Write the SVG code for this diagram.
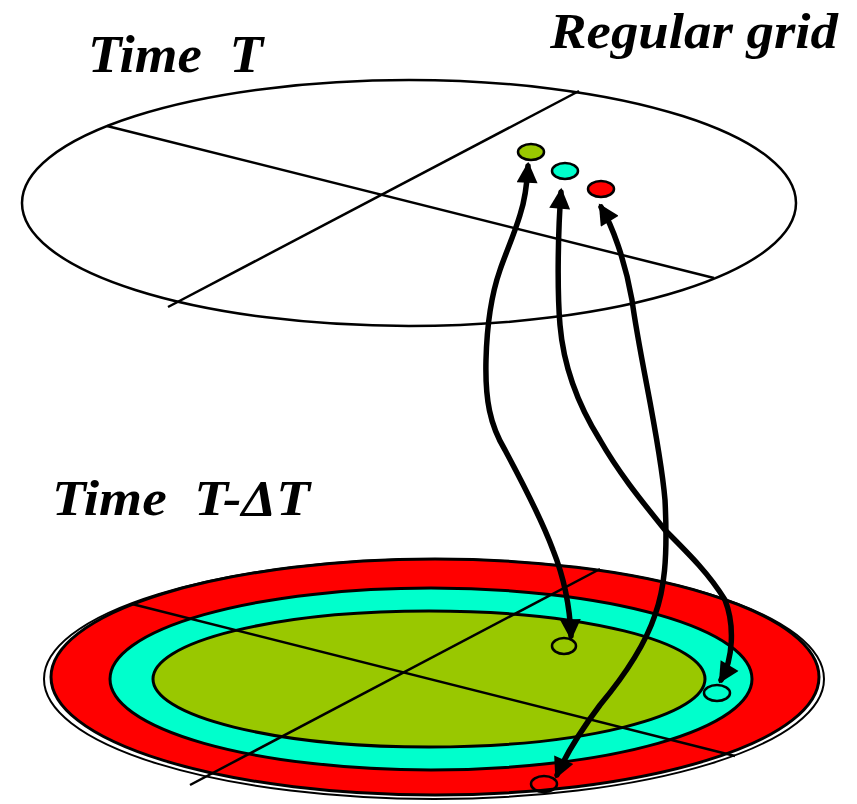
<svg xmlns="http://www.w3.org/2000/svg" width="857" height="804" viewBox="0 0 857 804">
<defs>
<style>
.lbl{font-family:"Liberation Serif","DejaVu Serif",serif;font-style:italic;font-weight:bold;fill:#000;white-space:pre}
.ln{stroke:#000;stroke-width:2.5;fill:none}
.ring{stroke:#000;stroke-width:3}
.conn{stroke:#000;stroke-width:5.5;fill:none;stroke-linejoin:round;stroke-linecap:round}
.dot{stroke:#000;stroke-width:2.5}
</style>
<marker id="ah" viewBox="0 0 10 10" refX="8" refY="5" markerWidth="4.6" markerHeight="3.8" orient="auto-start-reverse" markerUnits="strokeWidth">
<path d="M0,0 L10,5 L0,10 z" fill="#000"/>
</marker>
</defs>
<rect width="857" height="804" fill="#fff"/>

<text class="lbl" x="88" y="72" font-size="52" textLength="175" lengthAdjust="spacingAndGlyphs" xml:space="preserve">Time  T</text>
<text class="lbl" x="550" y="48" font-size="50" textLength="288" lengthAdjust="spacingAndGlyphs">Regular grid</text>
<text class="lbl" x="52" y="515" font-size="50" textLength="258" lengthAdjust="spacingAndGlyphs" xml:space="preserve">Time  T-ΔT</text>

<g id="plane-top">
<ellipse cx="409" cy="203" rx="387" ry="123" fill="#fff" stroke="#000" stroke-width="2.5"/>
<line class="ln" x1="107" y1="126" x2="714" y2="278"/>
<line class="ln" x1="168" y1="307" x2="579" y2="91"/>
</g>

<g id="dot-green"><ellipse class="dot" cx="531" cy="152" rx="13" ry="8" fill="#99c800"/></g>
<g id="dot-cyan"><ellipse class="dot" cx="565" cy="171" rx="13" ry="8" fill="#00ffcc"/></g>
<g id="dot-red"><ellipse class="dot" cx="601" cy="189" rx="13" ry="8" fill="#ff0000"/></g>

<g id="plane-bottom">
<ellipse cx="434" cy="679" rx="390" ry="120" fill="#fff" stroke="#000" stroke-width="2"/>
<ellipse class="ring" cx="435" cy="677" rx="384" ry="118" fill="#ff0000"/>
<ellipse class="ring" cx="431" cy="679" rx="321" ry="91" fill="#00ffcc"/>
<ellipse class="ring" cx="429" cy="679" rx="276" ry="68" fill="#99c800"/>
<line class="ln" x1="132" y1="604" x2="735" y2="756"/>
<line class="ln" x1="190" y1="785" x2="600" y2="569"/>
</g>

<g id="pos-green"><ellipse class="dot" cx="564" cy="646" rx="12" ry="8" fill="none"/></g>
<g id="pos-cyan"><ellipse class="dot" cx="717" cy="693" rx="13" ry="8" fill="none"/></g>
<g id="pos-red"><ellipse class="dot" cx="544" cy="784" rx="13" ry="8" fill="none"/></g>

<g id="connectors">
<path class="conn" marker-start="url(#ah)" marker-end="url(#ah)" d="M528,166 C527,185 525,200 520,215 C514,235 505,255 500,270 C493,290 487,320 486,360 C485,400 490,425 505,450 C520,478 540,515 553,550 C565,580 570,610 571,636"/>
<path class="conn" marker-start="url(#ah)" marker-end="url(#ah)" d="M561,192 C558,230 557,290 560,325 C563,360 575,400 600,440 C620,475 645,505 665,530 C690,555 710,575 725,600 C735,625 733,660 721,680"/>
<path class="conn" marker-start="url(#ah)" marker-end="url(#ah)" d="M601,207 C612,225 625,260 632,300 C640,360 660,440 665,500 C668,560 664,590 655,615 C645,645 625,675 600,705 C585,725 568,750 557,775"/>
</g>
</svg>
